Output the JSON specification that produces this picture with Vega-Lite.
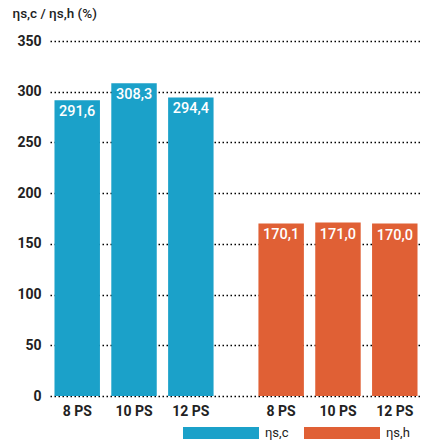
{
  "$schema": "https://vega.github.io/schema/vega-lite/v6.json",
  "width": 372,
  "height": 355,
  "autosize": {"type": "none"},
  "padding": {"left": 50, "top": 41, "right": 0, "bottom": 50},
  "config": {
    "view": {"stroke": null},
    "font": "Roboto",
    "locale": {"number": {"decimal": ",", "thousands": ".", "grouping": [3], "currency": ["", " €"]}}
  },
  "data": {
    "values": [
      {"series": "ηs,c", "model": "8 PS", "value": 291.6},
      {"series": "ηs,c", "model": "10 PS", "value": 308.3},
      {"series": "ηs,c", "model": "12 PS", "value": 294.4},
      {"series": "ηs,h", "model": "8 PS", "value": 170.1},
      {"series": "ηs,h", "model": "10 PS", "value": 171.0},
      {"series": "ηs,h", "model": "12 PS", "value": 170.0}
    ]
  },
  "encoding": {
    "x": {
      "field": "series", "type": "nominal", "axis": null,
      "scale": {"paddingInner": 0.22, "paddingOuter": 0.022}
    },
    "xOffset": {
      "field": "model", "type": "nominal", "sort": ["8 PS", "10 PS", "12 PS"],
      "scale": {"paddingInner": 0.2, "paddingOuter": 0}
    }
  },
  "layer": [
    {
      "mark": {"type": "bar"},
      "encoding": {
        "y": {
          "field": "value", "type": "quantitative",
          "scale": {"domain": [0, 350], "nice": false},
          "axis": {
            "values": [0, 50, 100, 150, 200, 250, 300, 350],
            "title": "ηs,c / ηs,h (%)",
            "titleAngle": 0, "titleAlign": "left", "titleBaseline": "top",
            "titleX": -38, "titleY": -35,
            "titleFontSize": 13.5, "titleFontWeight": 500, "titleColor": "#222",
            "labelFontSize": 14, "labelFontWeight": "bold", "labelColor": "#222",
            "labelPadding": 9, "ticks": false, "domain": false,
            "grid": true, "gridColor": "#000", "gridDash": [1.5, 2.5], "gridWidth": 1.5, "gridOpacity": 1
          }
        },
        "color": {
          "field": "series", "type": "nominal",
          "scale": {"domain": ["ηs,c", "ηs,h"], "range": ["#1ba1c9", "#e06035"]},
          "legend": {
            "orient": "none", "legendX": 133, "legendY": 354,
            "direction": "horizontal", "title": null,
            "symbolType": "M-1,-0.158L1,-0.158L1,0.158L-1,0.158Z",
            "symbolSize": 5776, "symbolStrokeWidth": 0, "symbolOpacity": 1,
            "labelFontSize": 13, "labelColor": "#222", "labelOffset": 6,
            "columnPadding": 15
          }
        }
      }
    },
    {
      "mark": {"type": "text", "color": "white", "baseline": "top", "dy": 5, "fontSize": 14.5, "fontWeight": 500},
      "encoding": {
        "y": {"field": "value", "type": "quantitative"},
        "text": {"field": "value", "type": "quantitative", "format": ".1f"}
      }
    },
    {
      "mark": {"type": "text", "color": "#222", "baseline": "middle", "dy": 16, "fontSize": 14, "fontWeight": "bold"},
      "encoding": {
        "y": {"datum": 0, "type": "quantitative"},
        "text": {"field": "model"}
      }
    },
    {
      "mark": {"type": "rule", "color": "#000", "strokeWidth": 1.5},
      "encoding": {"y": {"datum": 0, "type": "quantitative"}}
    }
  ]
}
